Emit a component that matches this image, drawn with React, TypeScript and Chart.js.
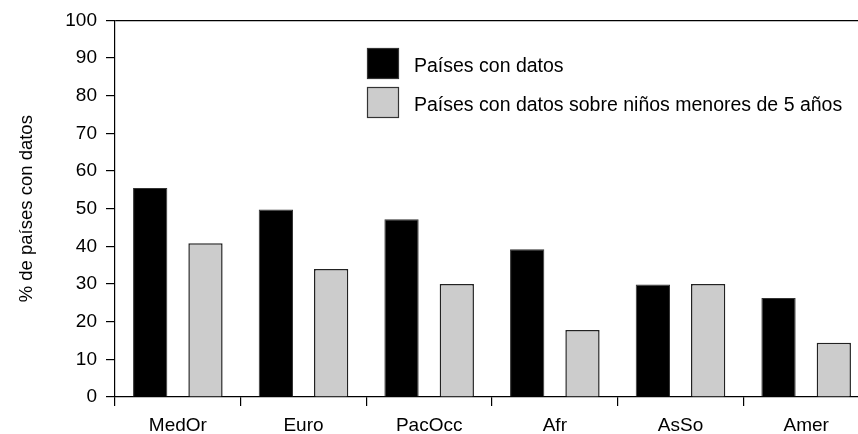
import React, { useEffect, useRef } from "react";
import { Chart, registerables } from "chart.js";

Chart.register(...registerables);

const categories = ["MedOr", "Euro", "PacOcc", "Afr", "AsSo", "Amer"];
const paisesConDatos = [55.5, 49.8, 47.2, 39.2, 29.9, 26.3];
const paisesMenores5 = [40.8, 34.0, 30.0, 17.8, 30.0, 14.4];
const seriesLabels = ["Países con datos", "Países con datos sobre niños menores de 5 años"];
const yTitle = "% de países con datos";
const yMin = 0;
const yMax = 100;
const yStep = 10;

const FONT = "'Liberation Sans', Arial, Helvetica, sans-serif";

const legendPlugin = {
  id: "boxLegend",
  afterDraw(chart: any) {
    const ctx = chart.ctx;
    const x = 367;
    const boxW = 32;
    const boxH = 31;
    const rows = [48, 87];
    ctx.save();
    chart.data.datasets.forEach((ds: any, i: number) => {
      const y = rows[i];
      ctx.fillStyle = ds.backgroundColor;
      ctx.fillRect(x, y, boxW, boxH);
      ctx.strokeStyle = "#333";
      ctx.lineWidth = 1.2;
      ctx.strokeRect(x + 0.5, y + 0.5, boxW - 1, boxH - 1);
      ctx.fillStyle = "#000";
      ctx.font = `19.5px ${FONT}`;
      ctx.textBaseline = "middle";
      ctx.textAlign = "left";
      ctx.fillText(ds.label, 414, y + boxH / 2 + 3);
    });
    ctx.restore();
  },
};

export default function App() {
  const ref = useRef<HTMLCanvasElement | null>(null);
  useEffect(() => {
    if (!ref.current) return;
    const chart = new Chart(ref.current, {
      type: "bar",
      data: {
        labels: categories,
        datasets: [
          {
            label: seriesLabels[0],
            data: paisesConDatos,
            backgroundColor: "#000000",
            borderColor: "#333333",
            borderWidth: 1,
          },
          {
            label: seriesLabels[1],
            data: paisesMenores5,
            backgroundColor: "#cccccc",
            borderColor: "#222222",
            borderWidth: 1.5,
          },
        ],
      },
      plugins: [legendPlugin],
      options: {
        animation: false,
        responsive: false,
        maintainAspectRatio: false,
        layout: { padding: { top: 20, right: 11, left: 0, bottom: 0 } },
        datasets: { bar: { categoryPercentage: 0.88, barPercentage: 0.62 } },
        plugins: {
          legend: { display: false },
          tooltip: { enabled: false },
        },
        scales: {
          x: {
            grid: {
              offset: true,
              drawOnChartArea: false,
              drawTicks: true,
              tickLength: 9,
              color: "#000",
              lineWidth: 1.2,
            },
            border: { display: true, color: "#000", width: 1.2 },
            ticks: {
              color: "#000",
              padding: 8,
              font: { family: FONT, size: 19 },
              maxRotation: 0,
              autoSkip: false,
            },
            afterFit(scale: any) {
              scale.height = 37;
            },
          },
          y: {
            min: yMin,
            max: yMax,
            grid: {
              drawOnChartArea: true,
              drawTicks: true,
              tickLength: 9,
              color: (c: any) => (c.tick && c.tick.value === yMax ? "#000" : "rgba(0,0,0,0)"),
              tickColor: "#000",
              lineWidth: 1.2,
            },
            border: { display: true, color: "#000", width: 1.2 },
            ticks: {
              stepSize: yStep,
              color: "#000",
              padding: 9,
              font: { family: FONT, size: 19 },
            },
            title: {
              display: true,
              text: yTitle,
              color: "#000",
              font: { family: FONT, size: 18.5 },
              padding: { top: 16, bottom: 0 },
            },
            afterFit(scale: any) {
              scale.width = 115;
            },
          },
        },
      },
    });
    return () => chart.destroy();
  }, []);
  return (
    <div
      style={{
        position: "fixed",
        left: 0,
        top: 0,
        width: 858,
        height: 434,
        overflow: "hidden",
        background: "#fff",
      }}
    >
      <canvas ref={ref} width={880} height={434} style={{ display: "block" }} />
    </div>
  );
}
